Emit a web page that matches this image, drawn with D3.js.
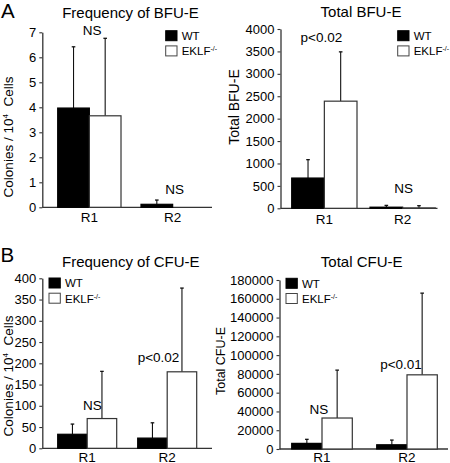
<!DOCTYPE html>
<html><head><meta charset="utf-8">
<script src="https://cdn.jsdelivr.net/npm/d3@7"></script>
<style>
body{margin:0;background:#fff}
svg{display:block}
text{font-family:"Liberation Sans",Arial,Helvetica,sans-serif;fill:#000}
</style>
</head><body><svg id="c" width="450" height="463"></svg>
<script>
// ---------- DATA ----------
const categories = ["R1", "R2"];
const seriesNames = ["WT", "EKLF"];

// A: Frequency of BFU-E (colonies / 10^4 cells)
const bfuFreqWT = [3.97, 0.12];
const bfuFreqWTsd = [2.45, 0.17];
const bfuFreqKO = [3.66, 0];
const bfuFreqKOsd = [3.10, 0];
const bfuFreqTicks = [0, 1, 2, 3, 4, 5, 6, 7];
const bfuFreqNotes = ["NS", "NS"];

// A: Total BFU-E
const bfuTotalWT = [675, 25];
const bfuTotalWTsd = [410, 40];
const bfuTotalKO = [2390, 8];
const bfuTotalKOsd = [1100, 50];
const bfuTotalTicks = [0, 500, 1000, 1500, 2000, 2500, 3000, 3500, 4000];
const bfuTotalNotes = ["p<0.02", "NS"];

// B: Frequency of CFU-E
const cfuFreqWT = [33, 24];
const cfuFreqWTsd = [24, 36];
const cfuFreqKO = [70, 180];
const cfuFreqKOsd = [111, 197];
const cfuFreqTicks = [0, 50, 100, 150, 200, 250, 300, 350, 400];
const cfuFreqNotes = ["NS", "p<0.02"];

// B: Total CFU-E
const cfuTotalWT = [6000, 4500];
const cfuTotalWTsd = [4300, 5000];
const cfuTotalKO = [33000, 79000];
const cfuTotalKOsd = [51000, 87000];
const cfuTotalTicks = [0, 20000, 40000, 60000, 80000, 100000, 120000, 140000, 160000, 180000];
const cfuTotalNotes = ["NS", "p<0.01"];

// ---------- LAYOUT ----------
const panels = [
  {title:"Frequency of BFU-E", titleX:130.5, titleY:17.5,
   wt:bfuFreqWT, wtsd:bfuFreqWTsd, ko:bfuFreqKO, kosd:bfuFreqKOsd, ticks:bfuFreqTicks, notes:bfuFreqNotes,
   ax:42.3, yTop:32.3, yBot:207.3, xEnd:212, band:[57.7,204.3], pad:0.24,
   ylab:"colonies", ylabX:13, ylabY:137, ylabSize:13.5,
   labY:222, noteDX:[2.7,2], noteY:[35,193.5],
   legX:165.7, legY:30.7},
  {title:"Total BFU-E", titleX:361, titleY:17,
   wt:bfuTotalWT, wtsd:bfuTotalWTsd, ko:bfuTotalKO, kosd:bfuTotalKOsd, ticks:bfuTotalTicks, notes:bfuTotalNotes,
   ax:280.5, yTop:29, yBot:208.3, xEnd:437.5, band:[291.7,435.3], pad:0.166,
   ylab:"Total BFU-E", ylabX:239, ylabY:107, ylabSize:14,
   labY:223.5, noteDX:[-3,1], noteY:[42,193],
   legX:397.7, legY:30.7},
  {title:"Frequency of CFU-E", titleX:130.8, titleY:266.7,
   wt:cfuFreqWT, wtsd:cfuFreqWTsd, ko:cfuFreqKO, kosd:cfuFreqKOsd, ticks:cfuFreqTicks, notes:cfuFreqNotes,
   ax:42.3, yTop:278.3, yBot:448.3, xEnd:212, band:[57.7,196.7], pad:0.2625,
   ylab:"colonies", ylabX:13, ylabY:376, ylabSize:13.5,
   labY:461.5, noteDX:[5.3,-8.7], noteY:[410,362],
   legX:49, legY:278},
  {title:"Total CFU-E", titleX:361.7, titleY:266.7,
   wt:cfuTotalWT, wtsd:cfuTotalWTsd, ko:cfuTotalKO, kosd:cfuTotalKOsd, ticks:cfuTotalTicks, notes:cfuTotalNotes,
   ax:279.5, yTop:280, yBot:449, xEnd:448, band:[291.7,437.3], pad:0.287,
   ylab:"Total CFU-E", ylabX:225, ylabY:361, ylabSize:12.5,
   labY:461.5, noteDX:[-3,-6], noteY:[414,369],
   legX:286, legY:278.3}
];

const svg = d3.select("#c");
const FONT_TICK = 13, FONT_NOTE = 13.5, FONT_TITLE = 15, FONT_LEG = 11.5;

// panel letters
svg.append("text").attr("x",1).attr("y",18).attr("font-size",20.5).text("A");
svg.append("text").attr("x",0.5).attr("y",262).attr("font-size",20.5).text("B");

panels.forEach(p => {
  const g = svg.append("g");
  const yMax = p.ticks[p.ticks.length-1];
  const y = d3.scaleLinear().domain([0, yMax]).range([p.yBot, p.yTop]);
  const x = d3.scaleBand().domain(categories).range(p.band).paddingInner(p.pad).paddingOuter(0);
  const xs = d3.scaleBand().domain(seriesNames).range([0, x.bandwidth()]).padding(0);

  // title
  g.append("text").attr("x", p.titleX).attr("y", p.titleY).attr("text-anchor","middle")
    .attr("font-size", FONT_TITLE).text(p.title);

  // y axis
  const yAxis = d3.axisLeft(y).tickValues(p.ticks).tickSize(3).tickSizeOuter(0).tickPadding(3)
    .tickFormat(d3.format("d"));
  const ya = g.append("g").attr("transform", `translate(${p.ax},0)`).call(yAxis);
  ya.select(".domain").attr("stroke","#333").attr("stroke-width",1.3);
  ya.selectAll(".tick line").attr("stroke","#333").attr("stroke-width",1.1);
  ya.selectAll(".tick text").attr("font-size", FONT_TICK).attr("font-family",'"Liberation Sans",Arial,sans-serif').attr("fill","#000");

  // x baseline
  g.append("line").attr("x1", p.ax).attr("x2", p.xEnd).attr("y1", y(0)).attr("y2", y(0))
    .attr("stroke","#333").attr("stroke-width",1.3);

  // x labels
  g.selectAll(".xl").data(categories).join("text")
    .attr("x", d => x(d) + x.bandwidth()/2).attr("y", p.labY)
    .attr("text-anchor","middle").attr("font-size", FONT_TICK+0.5).text(d => d);

  // bars
  const rows = [];
  categories.forEach((c,i) => {
    rows.push({cat:c, s:"WT", v:p.wt[i], sd:p.wtsd[i]});
    rows.push({cat:c, s:"EKLF", v:p.ko[i], sd:p.kosd[i]});
  });
  // error bars (upper only)
  rows.forEach(r => {
    if (r.sd <= 0) return;
    const cx = x(r.cat) + xs(r.s) + xs.bandwidth()/2;
    g.append("line").attr("x1",cx).attr("x2",cx).attr("y1",y(r.v)).attr("y2",y(r.v + r.sd))
      .attr("stroke","#111").attr("stroke-width",1.1);
    g.append("line").attr("x1",cx-1.8).attr("x2",cx+1.8).attr("y1",y(r.v + r.sd)).attr("y2",y(r.v + r.sd))
      .attr("stroke","#111").attr("stroke-width",1.3);
  });
  g.selectAll(".bar").data(rows).join("rect")
    .attr("x", d => x(d.cat) + xs(d.s))
    .attr("width", xs.bandwidth())
    .attr("y", d => y(d.v))
    .attr("height", d => Math.max(0, y(0) - y(d.v)))
    .attr("fill", d => d.s === "WT" ? "#000" : "#fff")
    .attr("stroke", d => d.s === "WT" ? "#000" : "#333")
    .attr("stroke-width", 1.2);

  // annotations
  categories.forEach((c,i) => {
    g.append("text").attr("x", x(c) + x.bandwidth()/2 + p.noteDX[i]).attr("y", p.noteY[i])
      .attr("text-anchor","middle").attr("font-size", FONT_NOTE).text(p.notes[i]);
  });

  // y label
  const yl = g.append("text").attr("transform", `translate(${p.ylabX},${p.ylabY}) rotate(-90)`)
    .attr("text-anchor","middle").attr("font-size", p.ylabSize);
  if (p.ylab === "colonies") {
    yl.append("tspan").text("Colonies / 10");
    yl.append("tspan").attr("font-size", 8).attr("dy", -5).text("4");
    yl.append("tspan").attr("dy", 5).text("\u00a0 Cells");
  } else {
    yl.text(p.ylab);
  }

  // legend
  seriesNames.forEach((s,i) => {
    const ly = p.legY + i*15.2;
    g.append("rect").attr("x", p.legX).attr("y", ly).attr("width", 11.3).attr("height", 10)
      .attr("fill", s === "WT" ? "#000" : "#fff").attr("stroke", s === "WT" ? "#000" : "#444").attr("stroke-width", 1);
    const t = g.append("text").attr("x", p.legX + 16).attr("y", ly + 9.3).attr("font-size", FONT_LEG);
    if (s === "WT") t.text("WT");
    else {
      t.append("tspan").text("EKLF");
      t.append("tspan").attr("font-size", 7).attr("dy", -4).text("-/-");
    }
  });
});
</script>
</body></html>
